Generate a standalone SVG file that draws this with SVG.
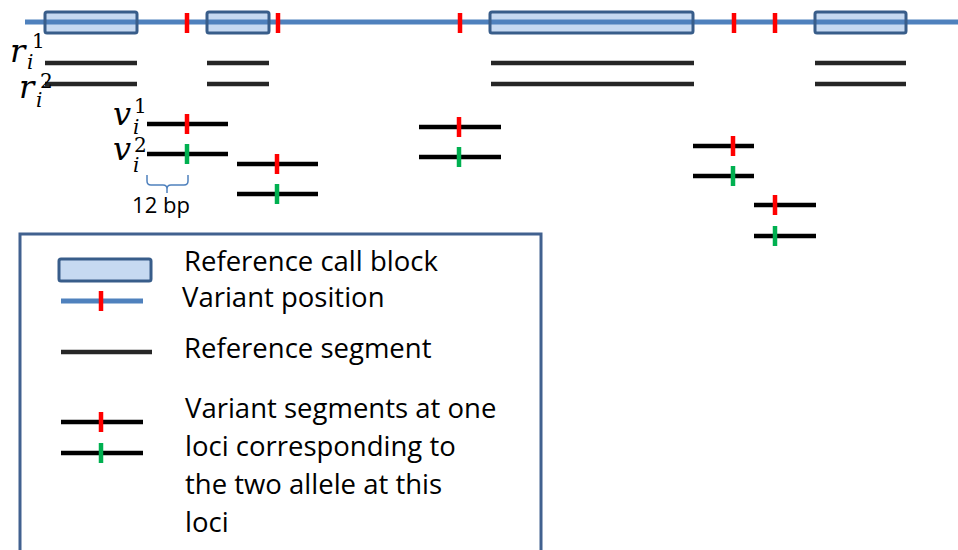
<svg xmlns="http://www.w3.org/2000/svg" width="958" height="550" viewBox="0 0 958 550">
<style>
.blk{fill:#C6D9F1;stroke:none}
.blkb{fill:none;stroke:#385D8A;stroke-width:3}
.axis{stroke:#4F81BD;stroke-width:5}
.ref{stroke:#262626;stroke-width:4.5}
.var{stroke:#000;stroke-width:4.5}
.red{stroke:#FF0000;stroke-width:4.5}
.grn{stroke:#00B050;stroke-width:4.5}
.math{font-family:"DejaVu Serif","Liberation Serif",serif;font-style:italic;fill:#000;font-size:32px}
.sc{font-size:20px}
.up{font-style:normal}
.lbl{font-family:"Open Sans","Liberation Sans",sans-serif;fill:#000}
</style>
<rect width="958" height="550" fill="#fff"/>
<g id="blocks">
<rect class="blk" x="45" y="12" width="92" height="21" rx="2"/>
<rect class="blk" x="207" y="12" width="62" height="21" rx="2"/>
<rect class="blk" x="490" y="12" width="203" height="21" rx="2"/>
<rect class="blk" x="815" y="12" width="91" height="21" rx="2"/>
</g>
<g id="axis"><line class="axis" x1="25" y1="22" x2="958" y2="22"/></g>
<g id="block-borders">
<rect class="blkb" x="45" y="12" width="92" height="21" rx="2"/>
<rect class="blkb" x="207" y="12" width="62" height="21" rx="2"/>
<rect class="blkb" x="490" y="12" width="203" height="21" rx="2"/>
<rect class="blkb" x="815" y="12" width="91" height="21" rx="2"/>
</g>
<g id="variant-positions">
<line class="red" x1="187" y1="13" x2="187" y2="33"/>
<line class="red" x1="278" y1="13" x2="278" y2="33"/>
<line class="red" x1="460" y1="13" x2="460" y2="33"/>
<line class="red" x1="734" y1="13" x2="734" y2="33"/>
<line class="red" x1="775" y1="13" x2="775" y2="33"/>
</g>
<g id="ref-segments">
<line class="ref" x1="45" y1="63" x2="137" y2="63"/>
<line class="ref" x1="45" y1="84" x2="137" y2="84"/>
<line class="ref" x1="207" y1="63" x2="269" y2="63"/>
<line class="ref" x1="207" y1="84" x2="269" y2="84"/>
<line class="ref" x1="491" y1="63" x2="694" y2="63"/>
<line class="ref" x1="491" y1="84" x2="694" y2="84"/>
<line class="ref" x1="815" y1="63" x2="906" y2="63"/>
<line class="ref" x1="815" y1="84" x2="906" y2="84"/>
</g>
<g id="labels-r">
<text class="math" x="10" y="62">r<tspan class="sc up" x="32" y="48">1</tspan><tspan class="sc" x="27" y="69">i</tspan></text>
<text class="math" x="19" y="98">r<tspan class="sc up" x="40" y="88">2</tspan><tspan class="sc" x="36" y="107">i</tspan></text>
</g>
<g id="labels-v">
<text class="math" x="113" y="125">v<tspan class="sc up" x="134" y="113">1</tspan><tspan class="sc" x="133" y="134">i</tspan></text>
<text class="math" x="113" y="160">v<tspan class="sc up" x="134" y="152">2</tspan><tspan class="sc" x="133" y="172">i</tspan></text>
</g>
<g id="variant-pair-1">
<line class="var" x1="147" y1="124" x2="228" y2="124"/>
<line class="red" x1="187" y1="114" x2="187" y2="134"/>
<line class="var" x1="147" y1="154" x2="228" y2="154"/>
<line class="grn" x1="187" y1="144" x2="187" y2="164"/>
</g>
<g id="variant-pair-2">
<line class="var" x1="237" y1="164" x2="318" y2="164"/>
<line class="red" x1="277" y1="154" x2="277" y2="174"/>
<line class="var" x1="237" y1="194" x2="318" y2="194"/>
<line class="grn" x1="277" y1="184" x2="277" y2="204"/>
</g>
<g id="variant-pair-3">
<line class="var" x1="419" y1="127" x2="501" y2="127"/>
<line class="red" x1="459" y1="117" x2="459" y2="137"/>
<line class="var" x1="419" y1="157" x2="501" y2="157"/>
<line class="grn" x1="459" y1="147" x2="459" y2="167"/>
</g>
<g id="variant-pair-4">
<line class="var" x1="693" y1="146" x2="754" y2="146"/>
<line class="red" x1="733" y1="136" x2="733" y2="156"/>
<line class="var" x1="693" y1="176" x2="754" y2="176"/>
<line class="grn" x1="733" y1="166" x2="733" y2="186"/>
</g>
<g id="variant-pair-5">
<line class="var" x1="754" y1="205" x2="816" y2="205"/>
<line class="red" x1="775" y1="195" x2="775" y2="215"/>
<line class="var" x1="754" y1="236" x2="816" y2="236"/>
<line class="grn" x1="775" y1="226" x2="775" y2="246"/>
</g>
<g id="brace">
<path d="M147,175 L147,181 Q147,185 151,185 L163,185 Q167,185 167,189 L167,193 M167,189 Q167,185 171,185 L184,185 Q188,185 188,181 L188,175" fill="none" stroke="#4F81BD" stroke-width="1.5"/>
<text class="lbl" x="161" y="213" font-size="22" text-anchor="middle">12 bp</text>
</g>
<g id="legend">
<rect x="20" y="234" width="521" height="330" fill="none" stroke="#41618F" stroke-width="3"/>
<rect class="blk" x="59" y="259" width="92" height="22" rx="2"/>
<rect class="blkb" x="59" y="259" width="92" height="22" rx="2"/>
<line class="axis" x1="61" y1="301" x2="143" y2="301"/>
<line class="red" x1="101" y1="291" x2="101" y2="311"/>
<line class="ref" x1="61" y1="352" x2="152" y2="352"/>
<line class="var" x1="61" y1="422" x2="143" y2="422"/>
<line class="red" x1="101" y1="412" x2="101" y2="432"/>
<line class="var" x1="61" y1="453" x2="143" y2="453"/>
<line class="grn" x1="101" y1="443" x2="101" y2="463"/>
<text class="lbl" x="184" y="271" font-size="27.5">Reference call block</text>
<text class="lbl" x="182" y="307" font-size="27.5">Variant position</text>
<text class="lbl" x="184" y="358" font-size="27.5">Reference segment</text>
<text class="lbl" x="185" y="418" font-size="27.5">Variant segments at one</text>
<text class="lbl" x="185" y="456" font-size="27.5">loci corresponding to</text>
<text class="lbl" x="185" y="494" font-size="27.5">the two allele at this</text>
<text class="lbl" x="185" y="532" font-size="27.5">loci</text>
</g>
</svg>
